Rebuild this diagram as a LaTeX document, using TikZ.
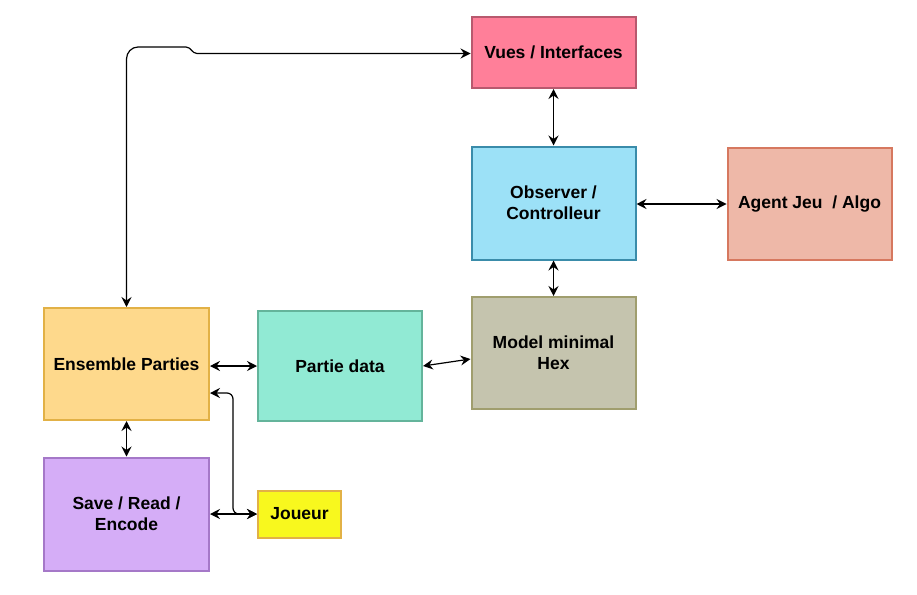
\documentclass[tikz,border=0pt]{standalone}
\usepackage{fontspec}
\setmainfont{Liberation Sans}
\usetikzlibrary{arrows.meta}

\definecolor{vuesfill}{HTML}{FF7F99}\definecolor{vuesline}{HTML}{B8596E}
\definecolor{obsfill}{HTML}{9CE1F7}\definecolor{obsline}{HTML}{3A8CAA}
\definecolor{agentfill}{HTML}{EEB8A8}\definecolor{agentline}{HTML}{D6785F}
\definecolor{modelfill}{HTML}{C5C4AE}\definecolor{modelline}{HTML}{A09E6E}
\definecolor{partiefill}{HTML}{91EAD4}\definecolor{partieline}{HTML}{64B49B}
\definecolor{ensfill}{HTML}{FED98C}\definecolor{ensline}{HTML}{E2B146}
\definecolor{savefill}{HTML}{D5ADF7}\definecolor{saveline}{HTML}{A578C8}
\definecolor{joueurfill}{HTML}{F8F81E}

\begin{document}
\begin{tikzpicture}[
  x=1pt, y=-1pt,
  every node/.style={font=\bfseries\fontsize{17.5}{21}\selectfont},
  block/.style={draw, line width=2pt, align=center, inner sep=2pt,
    minimum width=164pt, minimum height=112pt},
  link/.style={line width=1.2pt, {Stealth[length=10pt,width=10pt,inset=3.5pt]}-{Stealth[length=10pt,width=10pt,inset=3.5pt]}}
]
\useasboundingbox (0,0) rectangle (917,594);

% ---- blocks ----
\node[block, fill=vuesfill, draw=vuesline, minimum height=71pt] (vues) at (553.5,52.5) {Vues / Interfaces};
\node[block, fill=obsfill, draw=obsline, minimum height=113pt] (obs) at (553.5,203) {Observer /\\Controlleur};
\node[block, fill=agentfill, draw=agentline] (agent) at (809.5,204) {Agent Jeu\ \ / Algo};
\node[block, fill=modelfill, draw=modelline] (model) at (553.5,353) {Model minimal\\Hex};
\node[block, fill=partiefill, draw=partieline, minimum height=110pt] (partie) at (340,366) {Partie data};
\node[block, fill=ensfill, draw=ensline, minimum width=165pt] (ens) at (126.5,364) {Ensemble Parties};
\node[block, fill=savefill, draw=saveline, minimum width=165pt, minimum height=113pt] (save) at (126.5,514) {Save / Read /\\Encode};
\node[block, fill=joueurfill, draw=ensline, minimum width=83pt, minimum height=47pt] (joueur) at (299.5,514) {Joueur};

% ---- connectors ----
\draw[link] (ens.north) -- (126.5,59) to[out=90,in=180] (138,47) -- (186,47)
  to[out=0,in=180] (197,53.5) -- ([yshift=-1pt]vues.west);
\draw[link] (vues.south) -- (obs.north);
\draw[link] (obs.east |- agent.west) -- (agent.west);
\draw[link] (obs.south) -- (model.north);
\draw[link] (partie.east) -- ([yshift=-6pt]model.west);
\draw[link] (ens.east |- partie.west) -- (partie.west);
\draw[link] (ens.south) -- (save.north);
\draw[link] (save.east) -- (joueur.west);
\draw[link, rounded corners=6pt] ([yshift=-29pt]ens.east) -- (233,393) -- (233,514) -- (joueur.west);

\end{tikzpicture}
\end{document}
